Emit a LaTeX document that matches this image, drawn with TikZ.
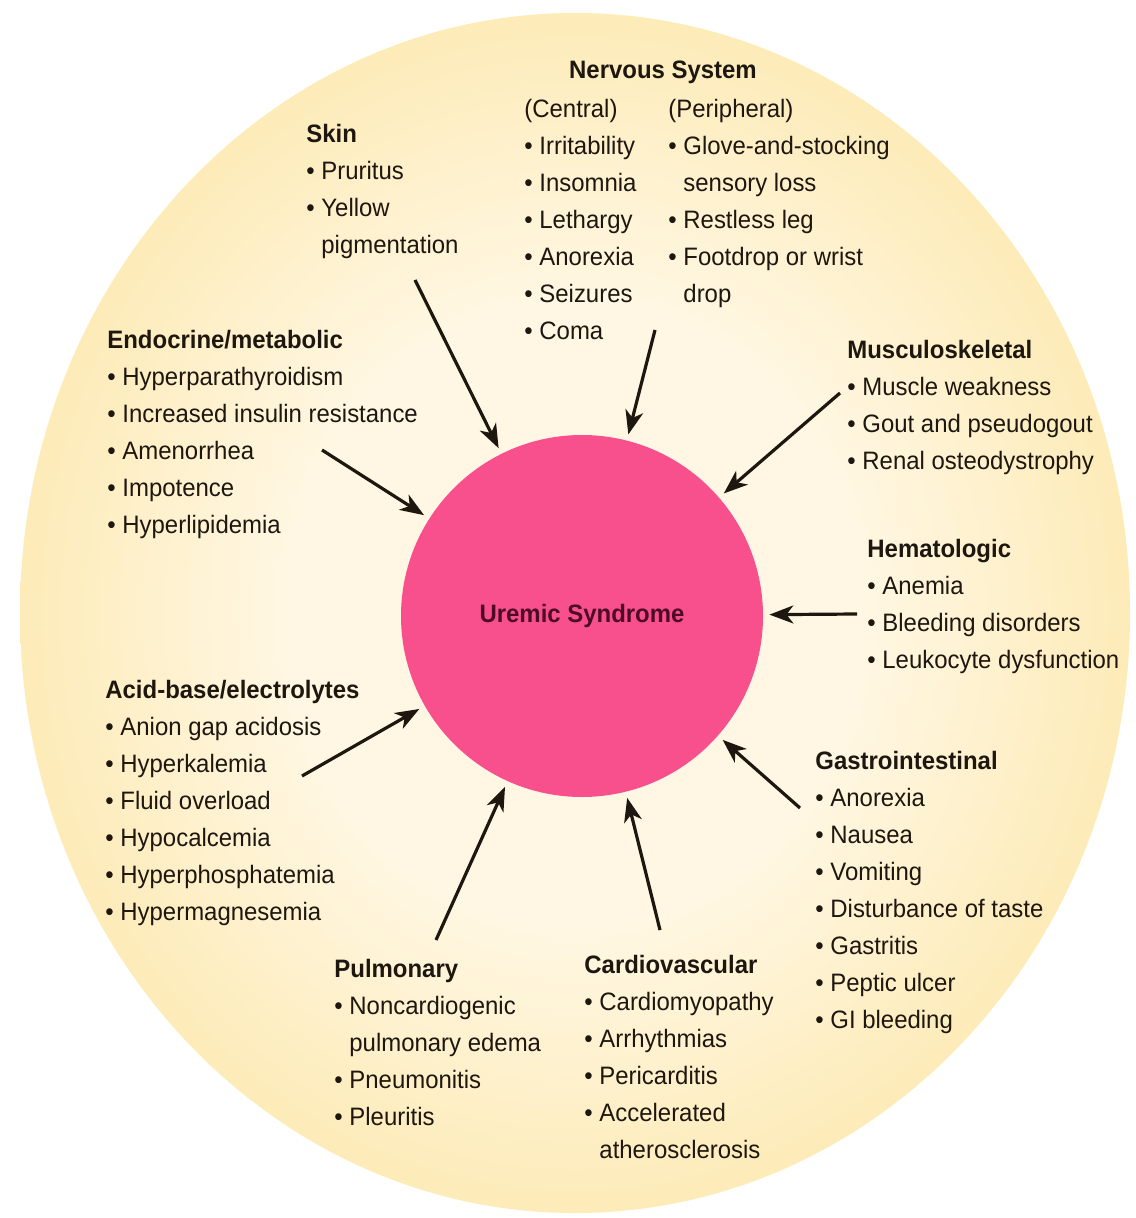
\documentclass[tikz,border=0pt]{standalone}
\usepackage{fontspec}
\setmainfont[FakeStretch=0.95]{Liberation Sans}
\usetikzlibrary{arrows.meta,positioning}
\definecolor{uscream}{HTML}{FFF7E3}
\definecolor{usbuff}{HTML}{FCE6A6}
\definecolor{usgold}{HTML}{F7D06A}
\definecolor{usrose}{HTML}{F7508D}
\definecolor{usmaroon}{HTML}{4E0A26}
\definecolor{usink}{HTML}{1E170F}
\pgfdeclareradialshading{usglow}{\pgfpointorigin}{color(0bp)=(uscream); color(13bp)=(uscream); color(30bp)=(usbuff); color(50bp)=(usgold)}
\newcommand{\bul}{\textbullet\ }
\newcommand{\bulgap}{\phantom{\textbullet\ }}

\begin{document}
\begin{tikzpicture}[x=0.5pt,y=-0.5pt,
  organ/.style={align=left,anchor=north west,inner sep=0pt,text=usink,
    font=\fontsize{12.6}{18.5}\selectfont},
  feed/.style={-{Stealth[length=12pt,width=9pt,inset=3.5pt]},line width=1.6pt,
    shorten >=3pt,draw=usink}]
  \useasboundingbox (0,0) rectangle (1135,1218);
  \fill[white] (0,0) rectangle (1135,1218);
  \shade[shading=usglow] (575,613) ellipse [x radius=277.5pt,y radius=300pt];

  % centre
  \node[circle,fill=usrose,minimum size=181pt,inner sep=0pt,text=usmaroon,
    font=\fontsize{12.6}{15}\selectfont\bfseries] (us) at (582,616) {Uremic Syndrome};

  % organ systems
  \node[organ,anchor=north] (nerv) at (663,61) {\textbf{Nervous System}};
  \node[organ] (central) at (524,99) {(Central)\\ \bul Irritability\\ \bul Insomnia\\
    \bul Lethargy\\ \bul Anorexia\\ \bul Seizures\\ \bul Coma};
  \node[organ] (periph) at (668,99) {(Peripheral)\\ \bul Glove-and-stocking\\
    \bulgap sensory loss\\ \bul Restless leg\\ \bul Footdrop or wrist\\ \bulgap drop};
  \node[organ] (skin) at (306,124) {\textbf{Skin}\\ \bul Pruritus\\ \bul Yellow\\
    \bulgap pigmentation};
  \node[organ] (endo) at (107,330) {\textbf{Endocrine/metabolic}\\ \bul Hyperparathyroidism\\
    \bul Increased insulin resistance\\ \bul Amenorrhea\\ \bul Impotence\\ \bul Hyperlipidemia};
  \node[organ] (musc) at (847,340) {\textbf{Musculoskeletal}\\ \bul Muscle weakness\\
    \bul Gout and pseudogout\\ \bul Renal osteodystrophy};
  \node[organ] (hema) at (867,539) {\textbf{Hematologic}\\ \bul Anemia\\
    \bul Bleeding disorders\\ \bul Leukocyte dysfunction};
  \node[organ] (acid) at (105,680) {\textbf{Acid-base/electrolytes}\\ \bul Anion gap acidosis\\
    \bul Hyperkalemia\\ \bul Fluid overload\\ \bul Hypocalcemia\\ \bul Hyperphosphatemia\\
    \bul Hypermagnesemia};
  \node[organ] (gast) at (815,751) {\textbf{Gastrointestinal}\\ \bul Anorexia\\ \bul Nausea\\
    \bul Vomiting\\ \bul Disturbance of taste\\ \bul Gastritis\\ \bul Peptic ulcer\\
    \bul GI bleeding};
  \node[organ] (pulm) at (334,959) {\textbf{Pulmonary}\\ \bul Noncardiogenic\\
    \bulgap pulmonary edema\\ \bul Pneumonitis\\ \bul Pleuritis};
  \node[organ] (card) at (584,955) {\textbf{Cardiovascular}\\ \bul Cardiomyopathy\\
    \bul Arrhythmias\\ \bul Pericarditis\\ \bul Accelerated\\ \bulgap atherosclerosis};

  % arrow tails, all aimed at the centre
  \coordinate (skintail) at (415,280);
  \coordinate (nervtail) at (655,330);
  \coordinate (endotail) at (322,450);
  \coordinate (musctail) at (840,393);
  \coordinate (hematail) at (857,614);
  \coordinate (acidtail) at (302,776);
  \coordinate (gasttail) at (800,808);
  \coordinate (pulmtail) at (436,940);
  \coordinate (cardtail) at (660,930);
  \foreach \t in {skin,nerv,endo,musc,hema,acid,gast,pulm,card}
    \draw[feed] (\t tail) -- (us);
\end{tikzpicture}
\end{document}
